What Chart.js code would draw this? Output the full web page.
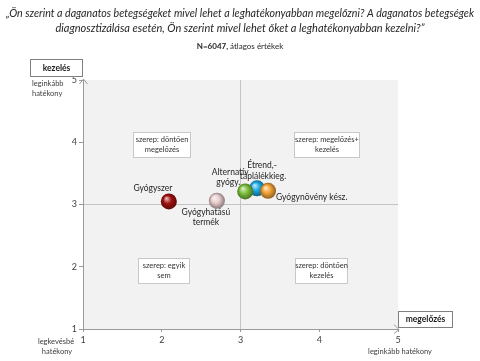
<!DOCTYPE html>
<html><head><meta charset="utf-8">
<script src="https://cdn.jsdelivr.net/npm/chart.js@4"></script>
<style>html,body{margin:0;padding:0;background:#fff}#wrap{width:480px;height:361px;position:relative}</style>
</head><body><div id="wrap"><canvas id="c" width="480" height="361"></canvas></div>
<script>
const categories = [["Gyógyszer"],["Gyógyhatású","termék"],["Étrend,-","táplálékkieg."],["Alternatív","gyógy."],["Gyógynövény kész."]];
const megelozes = [2.09, 2.70, 3.21, 3.06, 3.35];
const kezeles   = [3.05, 3.06, 3.26, 3.21, 3.22];
const xTicks = [1,2,3,4,5];
const yTicks = [1,2,3,4,5];
const colors = ["#a00f0f","#e8cccc","#1aa6e0","#7cbf3c","#f2a134"];
const quadrantLabels = [["szerep: döntően","megelőzés"],["szerep: megelőzés+","kezelés"],["szerep: egyik","sem"],["szerep: döntően","kezelés"]];
const titleLines = ["„Ön szerint a daganatos betegségeket mivel lehet a leghatékonyabban megelőzni? A daganatos betegségek","diagnosztizálása esetén, Ön szerint mivel lehet őket a leghatékonyabban kezelni?”"];
const subtitleBold = "N=6047,";
const subtitleRest = " átlagos értékek";
const yAxisTitle = "kezelés";
const xAxisTitle = "megelőzés";
const yTopNote = ["leginkább","hatékony"];
const xLeftNote = ["legkevésbé","hatékony"];
const xRightNote = "leginkább hatékony";

const FONT = "Lato, 'Open Sans', sans-serif";

function mix(hex, target, t){
  const n=parseInt(hex.slice(1),16);
  const r=(n>>16)&255,g=(n>>8)&255,b=n&255;
  const f=c=>Math.round(c+(target-c)*t);
  return `rgb(${f(r)},${f(g)},${f(b)})`;
}
function sphere(ctx){
  const i=ctx.dataIndex;
  if(i===undefined) return colors[0];
  const chart=ctx.chart, xs=chart.scales && chart.scales.x, ys=chart.scales && chart.scales.y;
  if(!xs||!ys) return colors[i];
  const px=xs.getPixelForValue(megelozes[i]), py=ys.getPixelForValue(kezeles[i]);
  if(!isFinite(px)||!isFinite(py)) return colors[i];
  const g=chart.ctx.createRadialGradient(px-2.5,py-3,0.5,px,py,8.5);
  g.addColorStop(0, mix(colors[i],255,0.7));
  g.addColorStop(0.45, colors[i]);
  g.addColorStop(1, mix(colors[i],0,0.45));
  return g;
}

const bgPlugin = {
  id:'bg',
  beforeDraw(chart){
    const {ctx, chartArea:a} = chart;
    ctx.save();
    ctx.fillStyle='#f2f2f2';
    ctx.fillRect(a.left+1,a.top,a.right-a.left-1,a.bottom-a.top);
    ctx.restore();
  }
};

function box(ctx, x, y, w, h, stroke){
  ctx.fillStyle='#fff'; ctx.fillRect(x,y,w,h);
  ctx.strokeStyle=stroke; ctx.lineWidth=1; ctx.strokeRect(x+0.5,y+0.5,w-1,h-1);
}

const overlayPlugin = {
  id:'overlay',
  afterDraw(chart){
    const {ctx, chartArea:a, scales:{x:xs,y:ys}} = chart;
    ctx.save();
    ctx.textBaseline='middle';
    ctx.fillStyle='#262626';
    ctx.textAlign='center';
    ctx.font=`italic 11px ${FONT}`;
    ctx.fillText(titleLines[0],240,13,468);
    ctx.fillText(titleLines[1],240,28,468);
    ctx.font=`bold 8px ${FONT}`;
    const wb=ctx.measureText(subtitleBold).width;
    ctx.font=`8px ${FONT}`;
    const wr=ctx.measureText(subtitleRest).width;
    const sx=240-(wb+wr)/2;
    ctx.textAlign='left';
    ctx.font=`bold 8px ${FONT}`;
    ctx.fillText(subtitleBold,sx,46);
    ctx.font=`8px ${FONT}`;
    ctx.fillText(subtitleRest,sx+wb,46);

    ctx.strokeStyle='#9a9a9a'; ctx.lineWidth=1;
    ctx.beginPath();
    ctx.moveTo(a.left-3.5,a.top+4); ctx.lineTo(a.left+0.5,a.top-1); ctx.lineTo(a.left+4.5,a.top+4);
    ctx.moveTo(a.right-4,a.bottom-4.5); ctx.lineTo(a.right+1,a.bottom+0.5); ctx.lineTo(a.right-4,a.bottom+4.5);
    ctx.stroke();

    const qb=[[133,132,58,26],[294,132,66,26],[138,258,52,26],[295,258,53,26]];
    ctx.font=`7.5px ${FONT}`;
    ctx.textAlign='center';
    qb.forEach((b,i)=>{
      box(ctx,b[0],b[1],b[2],b[3],'#c8c8c8');
      ctx.fillStyle='#333';
      ctx.fillText(quadrantLabels[i][0],b[0]+b[2]/2,b[1]+8);
      ctx.fillText(quadrantLabels[i][1],b[0]+b[2]/2,b[1]+18);
    });

    box(ctx,30,59,53,18,'#808080');
    box(ctx,398,311,55,17,'#808080');
    ctx.fillStyle='#1a1a1a';
    ctx.font=`bold 8.5px ${FONT}`;
    ctx.fillText(yAxisTitle,56.5,68);
    ctx.fillText(xAxisTitle,425.5,319.5);

    ctx.fillStyle='#404040';
    ctx.font=`7.5px ${FONT}`;
    ctx.textAlign='left';
    ctx.fillText(yTopNote[0],32,84);
    ctx.fillText(yTopNote[1],32,94);
    ctx.textAlign='center';
    ctx.fillText(xLeftNote[0],56,342);
    ctx.fillText(xLeftNote[1],57,352);
    ctx.fillText(xRightNote,400,352);

    const offs=[
      {al:'center',d:[[-16,-13]]},
      {al:'center',d:[[-11,12],[-11,22]]},
      {al:'center',d:[[5,-23],[6,-12]]},
      {al:'center',d:[[-15,-19],[-17,-9]]},
      {al:'left',d:[[8,6]]}
    ];
    ctx.font=`8.5px ${FONT}`;
    ctx.fillStyle='#262626';
    categories.forEach((lines,i)=>{
      const px=xs.getPixelForValue(megelozes[i]), py=ys.getPixelForValue(kezeles[i]);
      ctx.textAlign=offs[i].al;
      lines.forEach((t,k)=>ctx.fillText(t,px+offs[i].d[k][0],py+offs[i].d[k][1]));
    });
    ctx.restore();
  }
};

const gridColor = c => (c.tick && c.tick.value===3) ? '#c4c4c4' : 'rgba(0,0,0,0)';

new Chart(document.getElementById('c'), {
  type:'scatter',
  data:{datasets:[{
    data: megelozes.map((v,i)=>({x:v,y:kezeles[i]})),
    pointRadius:8, pointHoverRadius:8, borderWidth:0, pointBorderWidth:0,
    backgroundColor: sphere, borderColor:'rgba(0,0,0,0)'
  }]},
  options:{
    responsive:false, animation:false, events:[],
    layout:{padding:{left:0,right:82,top:80,bottom:0}},
    plugins:{legend:{display:false}, tooltip:{enabled:false}, title:{display:false}},
    scales:{
      x:{type:'linear', min:1, max:5,
        afterBuildTicks:s=>{s.ticks=xTicks.map(v=>({value:v}));},
        afterFit:s=>{s.height=32;},
        grid:{color:gridColor, drawTicks:true, tickLength:3, tickColor:'#9a9a9a', lineWidth:1},
        border:{color:'#9a9a9a', width:1},
        ticks:{padding:3, color:'#404040', font:{family:FONT,size:9}}
      },
      y:{type:'linear', min:1, max:5,
        afterBuildTicks:s=>{s.ticks=yTicks.map(v=>({value:v}));},
        afterFit:s=>{s.width=83;},
        grid:{color:gridColor, drawTicks:true, tickLength:4, tickColor:'#9a9a9a', lineWidth:1},
        border:{color:'#9a9a9a', width:1},
        ticks:{padding:2, color:'#404040', font:{family:FONT,size:9}}
      }
    }
  },
  plugins:[bgPlugin, overlayPlugin]
});
</script></body></html>
